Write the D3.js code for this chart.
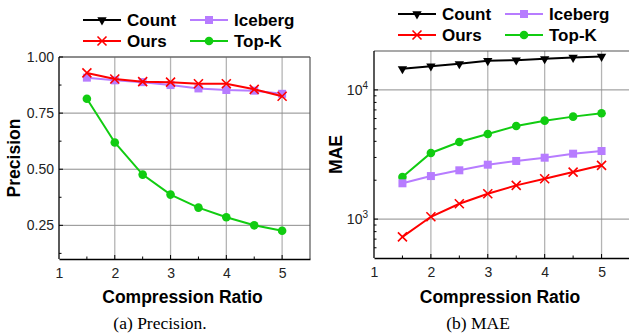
<!DOCTYPE html>
<html>
<head>
<meta charset="utf-8">
<script src="https://cdn.jsdelivr.net/npm/d3@7"></script>
<style>
  body { margin: 0; background: #fff; }
  svg { display: block; }
  text { font-family: "Liberation Sans", Arial, sans-serif; }
</style>
</head>
<body>
<script>
// compression ratios on the x axis
var ratios = [1.5, 2, 2.5, 3, 3.5, 4, 4.5, 5];
var xTicks = [1, 2, 3, 4, 5];

// (a) precision
var precOurs    = [0.929, 0.902, 0.890, 0.888, 0.881, 0.881, 0.856, 0.825];
var precIceberg = [0.908, 0.896, 0.888, 0.875, 0.860, 0.853, 0.850, 0.836];
var precTopK    = [0.814, 0.619, 0.476, 0.387, 0.329, 0.286, 0.250, 0.226];
var precTicks   = [0.25, 0.50, 0.75, 1.00];

// (b) MAE
var maeCount   = [14550, 15270, 15910, 16790, 16990, 17390, 17800, 18120];
var maeIceberg = [1893, 2153, 2386, 2637, 2818, 2987, 3208, 3365];
var maeOurs    = [729, 1042, 1315, 1571, 1825, 2051, 2311, 2607];
var maeTopK    = [2118, 3250, 3955, 4560, 5260, 5780, 6210, 6590];
var maeTicks   = [1000, 10000];

var colors = { Count: "#000000", Ours: "#ff0000", Iceberg: "#b77cff", TopK: "#11cc11" };

var svg = d3.select("body").append("svg")
    .attr("width", 629)
    .attr("height", 335);

// draws a marker for one series at (x, y)
function marker(g, kind, x, y) {
    var c = colors[kind];
    if (kind == "Count") {
        g.append("path").attr("d", d3.symbol().type(d3.symbolTriangle).size(38)())
            .attr("transform", "translate(" + x + "," + y + ") rotate(180)")
            .attr("fill", c);
    } else if (kind == "Iceberg") {
        g.append("rect").attr("x", x - 4).attr("y", y - 4)
            .attr("width", 8).attr("height", 8).attr("fill", c);
    } else if (kind == "Ours") {
        g.append("path").attr("d", "M-4.5,-4.5L4.5,4.5M-4.5,4.5L4.5,-4.5")
            .attr("transform", "translate(" + x + "," + y + ")")
            .attr("stroke", c).attr("stroke-width", 1.6).attr("fill", "none");
    } else {
        g.append("circle").attr("cx", x).attr("cy", y).attr("r", 4.3).attr("fill", c);
    }
}

function drawPanel(p) {
    var g = svg.append("g");
    var x = d3.scaleLinear().domain([1, 5.5]).range([p.left, p.right]);
    var y = p.log
        ? d3.scaleLog().domain([500, 20000]).range([p.bottom, p.top])
        : d3.scaleLinear().domain([0.1, 1.0]).range([p.bottom, p.top]);

    // grid
    g.selectAll("line.vgrid").data(xTicks.slice(1)).enter().append("line")
        .attr("x1", d => x(d)).attr("x2", d => x(d))
        .attr("y1", p.top).attr("y2", p.bottom)
        .attr("stroke", "#b4b4b4").attr("stroke-width", 1.3);
    g.selectAll("line.hgrid").data(p.yTicks).enter().append("line")
        .attr("x1", p.left).attr("x2", p.right)
        .attr("y1", d => y(d)).attr("y2", d => y(d))
        .attr("stroke", "#8c8c8c").attr("stroke-width", 1);

    // frame: top and right in grey
    g.append("line").attr("x1", p.left).attr("x2", p.right).attr("y1", p.top).attr("y2", p.top)
        .attr("stroke", "#555").attr("stroke-width", 1.2);
    g.append("line").attr("x1", p.right).attr("x2", p.right).attr("y1", p.top).attr("y2", p.bottom)
        .attr("stroke", "#555").attr("stroke-width", 1.2);

    // axes
    var xAxis = d3.axisBottom(x).tickValues(xTicks).tickSize(0).tickPadding(9).tickFormat(d3.format("d"));
    var xg = g.append("g").attr("transform", "translate(0," + p.bottom + ")").call(xAxis);
    xg.select(".domain").attr("stroke", "#000").attr("stroke-width", 1.3);
    xg.selectAll("text").attr("font-size", 14).attr("fill", "#222");

    // x minor/major inward ticks
    g.selectAll("line.xt").data([1.5, 2, 2.5, 3, 3.5, 4, 4.5, 5]).enter().append("line")
        .attr("x1", d => x(d)).attr("x2", d => x(d))
        .attr("y1", p.bottom).attr("y2", d => p.bottom - (d % 1 == 0 ? 4 : 2.5))
        .attr("stroke", "#000");

    var yg = g.append("g").attr("transform", "translate(" + p.left + ",0)");
    yg.append("line").attr("x1", 0).attr("x2", 0).attr("y1", p.top).attr("y2", p.bottom)
        .attr("stroke", "#000").attr("stroke-width", 1.3);
    yg.selectAll("line.minor").data(p.minorTicks).enter().append("line")
        .attr("x1", 0).attr("x2", 2.5)
        .attr("y1", d => y(d)).attr("y2", d => y(d)).attr("stroke", "#000");
    yg.selectAll("line.major").data(p.yTicks).enter().append("line")
        .attr("x1", 0).attr("x2", 4)
        .attr("y1", d => y(d)).attr("y2", d => y(d)).attr("stroke", "#000");

    if (p.log) {
        p.yTicks.forEach(function (d) {
            var t = yg.append("text").attr("x", -6).attr("y", y(d) + 5)
                .attr("text-anchor", "end").attr("font-size", 14).attr("fill", "#222");
            t.append("tspan").text("10");
            t.append("tspan").attr("dy", -6).attr("font-size", 10).text(Math.round(Math.log10(d)));
        });
    } else {
        yg.selectAll("text.yl").data(p.yTicks).enter().append("text")
            .attr("x", -5).attr("y", d => y(d) + 5)
            .attr("text-anchor", "end").attr("font-size", 14).attr("fill", "#222")
            .text(d => d3.format(".2f")(d));
    }

    // axis titles
    g.append("text").attr("x", (x(1) + x(5.5)) / 2 - 2).attr("y", 303)
        .attr("text-anchor", "middle").attr("font-size", 17.5).attr("font-weight", "bold")
        .text("Compression Ratio");
    g.append("text").attr("transform", "translate(" + p.titleX + "," + ((p.top + p.bottom) / 2) + ") rotate(-90)")
        .attr("text-anchor", "middle").attr("font-size", 17.5).attr("font-weight", "bold")
        .text(p.yTitle);

    // caption
    g.append("text").attr("x", p.capX).attr("y", 329)
        .attr("text-anchor", "middle").attr("font-size", 17.5)
        .style("font-family", "'Liberation Serif', 'Times New Roman', serif")
        .text(p.caption);

    // series
    var clip = "clip" + p.id;
    svg.append("clipPath").attr("id", clip).append("rect")
        .attr("x", p.left - 10).attr("y", p.top - 10)
        .attr("width", p.right - p.left + 20).attr("height", p.bottom - p.top + 10);
    var sg = g.append("g").attr("clip-path", "url(#" + clip + ")");
    var line = d3.line().x(d => x(d[0])).y(d => y(d[1]));
    p.series.forEach(function (s) {
        var pts = ratios.map((r, i) => [r, s.values[i]]);
        sg.append("path").datum(pts).attr("d", line)
            .attr("fill", "none").attr("stroke", colors[s.name]).attr("stroke-width", 2);
        pts.forEach(d => marker(sg, s.name, x(d[0]), y(d[1])));
    });

    // legend
    var lg = g.append("g");
    var items = [["Count", "Count", 0, 0], ["Iceberg", "Iceberg", 1, 0], ["Ours", "Ours", 0, 1], ["TopK", "Top-K", 1, 1]];
    items.forEach(function (it) {
        var lx = p.legX + it[2] * 107, ly = p.legY + it[3] * 21;
        lg.append("line").attr("x1", lx).attr("x2", lx + 38).attr("y1", ly).attr("y2", ly)
            .attr("stroke", colors[it[0]]).attr("stroke-width", 2);
        marker(lg, it[0], lx + 19, ly);
        lg.append("text").attr("x", lx + 44).attr("y", ly + 6)
            .attr("font-size", 17).attr("font-weight", "bold").text(it[1]);
    });
}

var precMinor = [0.125, 0.375, 0.625, 0.875];
var maeMinor = [600, 700, 800, 900, 2000, 3000, 4000, 5000, 6000, 7000, 8000, 9000];

drawPanel({
    id: "a", left: 59, right: 310, top: 57, bottom: 259,
    log: false, yTicks: precTicks, minorTicks: precMinor,
    yTitle: "Precision", titleX: 20, caption: "(a)  Precision.", capX: 160,
    legX: 83, legY: 20,
    series: [
        { name: "TopK", values: precTopK },
        { name: "Iceberg", values: precIceberg },
        { name: "Ours", values: precOurs }
    ]
});

drawPanel({
    id: "b", left: 374, right: 630, top: 51, bottom: 258,
    log: true, yTicks: maeTicks, minorTicks: maeMinor,
    yTitle: "MAE", titleX: 342, caption: "(b)  MAE", capX: 478,
    legX: 398, legY: 14,
    series: [
        { name: "Count", values: maeCount },
        { name: "TopK", values: maeTopK },
        { name: "Iceberg", values: maeIceberg },
        { name: "Ours", values: maeOurs }
    ]
});
</script>
</body>
</html>
